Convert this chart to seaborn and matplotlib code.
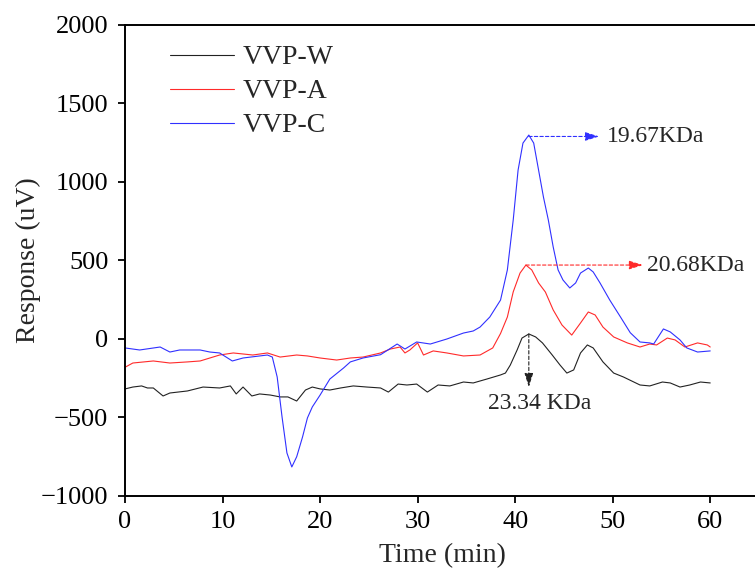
import numpy as np
import pandas as pd
import matplotlib
matplotlib.use("Agg")
import matplotlib.pyplot as plt
import seaborn as sns

# ---------------- data ----------------
w_time = [0, 0.8, 1.7, 2.3, 2.9, 3.9, 4.6, 6.4, 8.0, 9.7, 10.8, 11.4, 12.1, 13.0,
          13.8, 14.9, 15.9, 16.7, 17.6, 18.5, 19.2, 20.0, 21.0, 22.1, 23.4, 24.8,
          26.2, 27.0, 28.0, 28.9, 29.9, 31.0, 32.1, 33.3, 34.7, 35.7, 37.1, 38.5,
          39.0, 39.5, 40.2, 40.7, 41.4, 42.1, 42.8, 43.8, 44.6,
          45.3, 46.0, 46.7, 47.4, 48.0, 49.0, 50.1, 51.1, 52.8, 53.8, 55.1, 55.9,
          56.9, 57.9, 59.0, 60.0]
w_resp = [-318, -306, -299, -312, -312, -363, -344, -331, -306, -312, -299, -350, -306, -363,
          -350, -357, -369, -369, -395, -325, -306, -318, -325, -312, -299, -306,
          -312, -338, -287, -293, -287, -338, -293, -299, -274, -280, -255, -229,
          -217, -166, -70, 6, 32, 13, -25, -102, -166,
          -217, -197, -89, -38, -57, -146, -217, -242, -293, -299, -274, -280,
          -306, -293, -274, -280]

a_time = [0, 0.8, 2.9, 4.6, 6.4, 7.7, 8.7, 9.7, 11.1, 13.1, 14.6, 15.9, 17.6, 18.7,
          20.0, 21.7, 23.1, 24.4, 26.2, 27.2, 28.2, 28.7, 29.2, 30.0, 30.6, 31.6,
          33.0, 34.7, 36.4, 37.7, 38.5, 39.2, 39.8, 40.5, 41.1, 41.7, 42.4, 43.1,
          43.9, 44.8, 45.8, 46.7, 47.5, 48.2, 49.0, 50.1, 51.5, 52.8, 53.8, 54.5,
          55.6, 56.4, 57.4, 58.7, 59.7, 60.0]
a_resp = [-180, -153, -140, -153, -146, -140, -121, -102, -89, -102, -89, -115, -102, -108,
          -121, -134, -121, -115, -89, -64, -51, -89, -70, -25, -102, -76,
          -89, -108, -102, -57, 35, 140, 300, 420, 471, 440, 357, 299,
          185, 89, 25, 102, 172, 153, 76, 13, -25, -51, -32, -38,
          6, -6, -51, -25, -38, -51]

c_time = [0, 1.5, 3.6, 4.6, 5.6, 7.7, 8.7, 9.7, 11.0, 12.1, 14.6, 15.1, 15.6, 16.1,
          16.6, 17.1, 17.6, 18.2, 18.7, 19.2, 20.0, 21.0, 22.4, 23.1, 24.4, 26.2,
          27.9, 28.7, 29.9, 31.3, 33.0, 34.7, 35.7, 36.4, 37.4, 38.5, 39.2, 39.8,
          40.3, 40.8, 41.4, 41.9, 42.4, 42.9, 43.4, 43.9, 44.4, 44.9, 45.6, 46.2,
          46.7, 47.5, 48.0, 48.7, 49.7, 50.8, 51.8, 52.8, 53.8, 54.2, 55.2, 55.9,
          56.9, 57.6, 58.7, 60.0]
c_resp = [-57, -70, -51, -83, -70, -70, -83, -89, -140, -121, -102, -115, -242, -497,
          -726, -815, -750, -624, -503, -433, -357, -255, -185, -146, -121, -100,
          -32, -64, -19, -32, 0, 38, 51, 76, 140, 248, 440, 758,
          1076, 1248, 1299, 1248, 1076, 904, 758, 586, 440, 376, 325, 357,
          420, 452, 427, 357, 248, 140, 40, -19, -25, -32, 64, 45,
          -6, -57, -83, -76]

labels = ["VVP-W", "VVP-A", "VVP-C"]
colors = ["#222222", "#ff2a2a", "#3030ff"]
mw_labels = ["19.67KDa", "20.68KDa", "23.34 KDa"]

# ---------------- style ----------------
sns.set_theme(style="ticks")
plt.rcParams["font.family"] = ["Liberation Serif", "DejaVu Serif"]
plt.rcParams["axes.unicode_minus"] = True

df = pd.concat([
    pd.DataFrame({"Time": w_time, "Response": w_resp, "Sample": labels[0]}),
    pd.DataFrame({"Time": a_time, "Response": a_resp, "Sample": labels[1]}),
    pd.DataFrame({"Time": c_time, "Response": c_resp, "Sample": labels[2]}),
], ignore_index=True)

fig = plt.figure(figsize=(7.55, 5.76), dpi=100)
ax = fig.add_axes([0.1656, 0.1389, 0.8397, 0.8177])

sns.lineplot(data=df, x="Time", y="Response", hue="Sample",
             palette=dict(zip(labels, colors)), sort=False, estimator=None,
             linewidth=0.8, ax=ax)

ax.set_xlim(0, 65)
ax.set_ylim(-1000, 2000)
ax.set_xticks(np.arange(0, 61, 10))
ax.set_yticks(np.arange(-1000, 2001, 500))

for s in ax.spines.values():
    s.set_linewidth(1.4)
    s.set_color("black")
ax.tick_params(axis="both", direction="out", length=5, width=1.3,
               labelsize=19, colors="black", pad=6)
ax.tick_params(axis="y", pad=7)

ax.set_xlabel("Time (min)", fontsize=20, labelpad=7)
ax.set_ylabel("Response (uV)", fontsize=20, labelpad=0)

# annotations
def dashed_arrow(x0, y0, x1, y1, c):
    ax.annotate("", xy=(x1, y1), xytext=(x0, y0),
                arrowprops=dict(arrowstyle="-|>,head_length=0.7,head_width=0.22",
                                linestyle=(0, (3, 2)), lw=0.8, color=c,
                                shrinkA=0, shrinkB=0))

dashed_arrow(41.4, 1290, 48.6, 1290, colors[2])
ax.text(49.4, 1290, mw_labels[0], fontsize=17, va="center", ha="left")
dashed_arrow(41.1, 471, 53.1, 471, colors[1])
ax.text(53.5, 471, mw_labels[1], fontsize=17, va="center", ha="left")
dashed_arrow(41.4, 32, 41.4, -306, colors[0])
ax.text(42.5, -410, mw_labels[2], fontsize=17, va="center", ha="center")

h, l = ax.get_legend_handles_labels()
ax.legend(h, l, loc="upper left", bbox_to_anchor=(0.071, 0.958), frameon=False,
          fontsize=20, handlelength=2.3, handletextpad=0.3, labelspacing=0.31,
          borderaxespad=0, borderpad=0)

fig.savefig("out.png", dpi=100)
